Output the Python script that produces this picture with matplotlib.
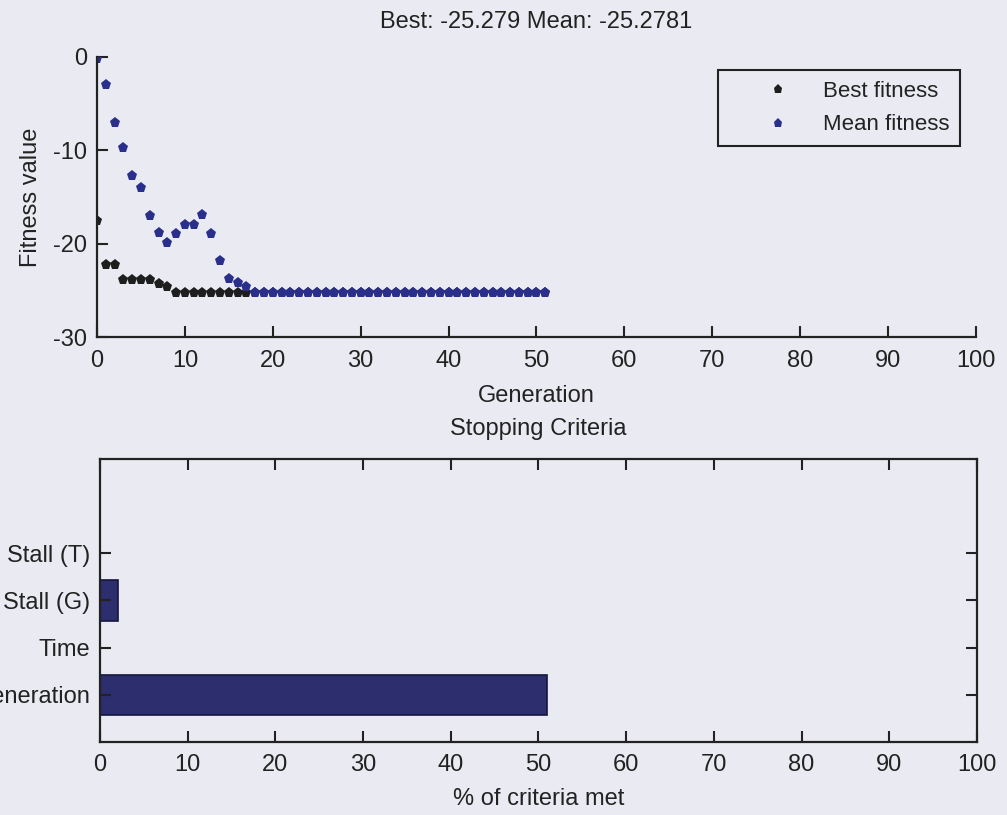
import matplotlib.pyplot as plt

plt.rcParams['font.family'] = ['Liberation Sans', 'DejaVu Sans']
plt.rcParams['axes.unicode_minus'] = False

# GA run: fitness per generation
generations = list(range(52))
best_fitness = [-17.6, -22.3, -22.3, -23.9, -23.9, -23.9, -23.9, -24.3, -24.6,
                -25.279, -25.279, -25.279, -25.279, -25.279, -25.279, -25.279,
                -25.279, -25.279, -25.279, -25.279, -25.279, -25.279, -25.279,
                -25.279, -25.279, -25.279, -25.279, -25.279, -25.279, -25.279,
                -25.279, -25.279, -25.279, -25.279, -25.279, -25.279, -25.279,
                -25.279, -25.279, -25.279, -25.279, -25.279, -25.279, -25.279,
                -25.279, -25.279, -25.279, -25.279, -25.279, -25.279, -25.279,
                -25.279]
mean_fitness = [-0.2, -3.0, -7.1, -9.8, -12.8, -14.1, -17.0, -18.9, -19.9,
                -19.0, -18.0, -18.0, -16.9, -19.0, -21.9, -23.8, -24.2, -24.6,
                -25.28, -25.28, -25.28, -25.28, -25.28, -25.28, -25.28, -25.28,
                -25.28, -25.28, -25.28, -25.28, -25.28, -25.28, -25.28, -25.28,
                -25.28, -25.28, -25.28, -25.28, -25.28, -25.28, -25.28, -25.28,
                -25.28, -25.28, -25.28, -25.28, -25.28, -25.28, -25.28, -25.28,
                -25.28, -25.2781]

# stopping criteria, % met
criteria = ['Generation', 'Time', 'Stall (G)', 'Stall (T)']
criteria_pct = [51, 0, 2, 0]

bg = '#eaebf2'
ink = '#222222'
navy = '#2c2e6e'

fig = plt.figure(figsize=(10.07, 8.15), dpi=100, facecolor=bg)

# --- fitness plot ---
ax1 = fig.add_axes([0.0963, 0.5865, 0.8729, 0.3439])
ax1.set_facecolor('none')
ax1.plot(generations, best_fitness, 'p', color='#1e1e1e', markersize=8,
         markeredgewidth=0, label='Best fitness')
ax1.plot(generations, mean_fitness, 'p', color='#2b2f8c', markersize=8,
         markeredgewidth=0, label='Mean fitness')
ax1.set_xlim(0, 100)
ax1.set_ylim(-30, 0)
ax1.set_xticks(range(0, 101, 10))
ax1.set_yticks([-30, -20, -10, 0])
ax1.spines['top'].set_visible(False)
ax1.spines['right'].set_visible(False)
for s in ['left', 'bottom']:
    ax1.spines[s].set_linewidth(1.6)
    ax1.spines[s].set_color(ink)
ax1.tick_params(direction='in', length=8, width=1.5, color=ink,
                labelsize=17, labelcolor=ink)
ax1.tick_params(axis='x', pad=9)
ax1.tick_params(axis='y', pad=7)
ax1.set_title(f'Best: {best_fitness[-1]:g} Mean: {mean_fitness[-1]:g}',
              fontsize=17, color=ink, pad=21)
ax1.set_xlabel('Generation', fontsize=17, color=ink, labelpad=10)
ax1.set_ylabel('Fitness value', fontsize=17, color=ink, labelpad=8)
leg = ax1.legend(loc='upper right', bbox_to_anchor=(0.982, 0.9525),
                 fontsize=16, frameon=True, fancybox=False, numpoints=1,
                 handlelength=4.4, handletextpad=-0.2, borderpad=0.5,
                 labelspacing=0.55, borderaxespad=0, markerscale=0.85)
leg.get_frame().set_edgecolor(ink)
leg.get_frame().set_linewidth(1.5)
leg.get_frame().set_facecolor(bg)
leg.get_frame().set_alpha(1)
for t in leg.get_texts():
    t.set_color(ink)

# --- stopping criteria ---
ax2 = fig.add_axes([0.0993, 0.0896, 0.8709, 0.3472])
ax2.set_facecolor('none')
ypos = list(range(1, len(criteria) + 1))
ax2.barh(ypos, criteria_pct, height=0.85, color=navy, edgecolor='#16163a',
         linewidth=1.2)
ax2.set_xlim(0, 100)
ax2.set_ylim(0, 6)
ax2.set_xticks(range(0, 101, 10))
ax2.set_yticks(ypos)
ax2.set_yticklabels(criteria)
for s in ax2.spines.values():
    s.set_linewidth(1.6)
    s.set_color(ink)
ax2.tick_params(direction='in', length=8, width=1.5, color=ink,
                labelsize=17, labelcolor=ink, top=True, right=True)
ax2.tick_params(axis='x', pad=9)
ax2.tick_params(axis='y', pad=7)
ax2.set_title('Stopping Criteria', fontsize=17, color=ink, pad=17)
ax2.set_xlabel('% of criteria met', fontsize=17, color=ink, labelpad=8)

fig.savefig('out.png', dpi=100, facecolor=bg)
